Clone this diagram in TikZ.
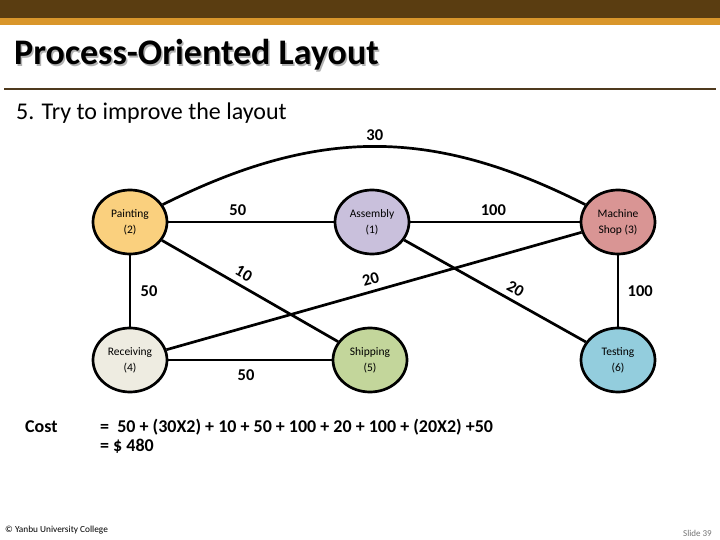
\documentclass[tikz,border=0pt]{standalone}
\usepackage{fontspec}
\setmainfont{Carlito}
\usetikzlibrary{shapes.geometric}
\definecolor{barbrown}{HTML}{5A3D11}
\definecolor{barorange}{HTML}{D9962B}
\definecolor{rulebrown}{HTML}{4F3A1E}
\definecolor{paintfill}{HTML}{FAD07E}
\definecolor{asmfill}{HTML}{C9C0DC}
\definecolor{machfill}{HTML}{D99594}
\definecolor{recvfill}{HTML}{EEECE1}
\definecolor{shipfill}{HTML}{C3D69B}
\definecolor{testfill}{HTML}{93CDDD}

\begin{document}
\begin{tikzpicture}[x=1pt,y=-1pt,
		dept/.style={ellipse,draw=black,line width=2.7pt,minimum width=74pt,minimum height=64pt,inner sep=0pt,align=center,font=\fontsize{11.5}{16}\selectfont},
		flow/.style={line width=2.7pt},
		weight/.style={font=\bfseries\fontsize{16.5}{16.5}\selectfont}]
				\useasboundingbox (0,0) rectangle (720,540);
				\fill[barbrown] (0,0) rectangle (720,18);
				\fill[barorange] (0,18) rectangle (720,25);
				
				\node[anchor=base west,inner sep=0pt,text=black!30,font=\bfseries\fontsize{36}{36}\selectfont] (titleshadow) at (15.5,66.5) {Process-Oriented Layout};
				\node[anchor=base west,inner sep=0pt,font=\bfseries\fontsize{36}{36}\selectfont] (title) at (14,65) {Process-Oriented Layout};
				\draw[rulebrown,line width=2pt] (4,89) -- (716,89);
				\node[anchor=west,inner sep=0pt,font=\fontsize{24}{24}\selectfont] (subtitle) at (16,113) {5. Try to improve the layout};
				
				\node[dept,fill=paintfill] (paint) at (130,222) {Painting\\(2)};
				\node[dept,fill=asmfill] (asm) at (372,222) {Assembly\\(1)};
				\node[dept,fill=machfill] (mach) at (618,222) {Machine\\Shop (3)};
				\node[dept,fill=recvfill] (recv) at (130,360) {Receiving\\(4)};
				\node[dept,fill=shipfill] (ship) at (370,360) {Shipping\\(5)};
				\node[dept,fill=testfill] (test) at (618,360) {Testing\\(6)};
				
				\draw[flow] (paint.28) .. controls (318,127) and (432,127) .. node[weight,above=1pt] (w30) {30} (mach.152);
				\draw[flow] (paint) -- node[weight,pos=0.42,above=2pt] (w50a) {50} (asm);
				\draw[flow] (asm) -- node[weight,pos=0.49,above=2pt] (w100a) {100} (mach);
				\draw[flow] (paint) -- node[weight,right=6pt] (w50b) {50} (recv);
				\draw[flow] (recv) -- node[weight,pos=0.476,below=5pt] (w50c) {50} (ship);
				\draw[flow] (mach) -- node[weight,right=5pt] (w100b) {100} (test);
				\draw[flow] (paint) -- node[weight,pos=0.43,above=2pt,sloped] (w10) {10} (ship);
				\draw[flow] (recv) -- node[weight,pos=0.5,above=2pt,sloped] (w20a) {20} (mach);
				\draw[flow] (asm) -- node[weight,pos=0.58,above=2pt,sloped] (w20b) {20} (test);
				
				\node[anchor=west,inner sep=0pt,font=\bfseries\fontsize{18}{19}\selectfont] (costlabel) at (25,427) {Cost};
				\node[anchor=north west,inner sep=0pt,align=left,font=\bfseries\fontsize{18}{19}\selectfont] (costsum) at (100,419) {=\ \ 50 + (30X2) + 10 + 50 + 100 + 20 + 100 + (20X2) +50\\= \$ 480};
				
				\node[anchor=west,inner sep=0pt,font=\fontsize{9.3}{9.3}\selectfont] (footer) at (5,530) {© Yanbu University College};
				\node[anchor=east,inner sep=0pt,text=black!55,font=\fontsize{9}{9}\selectfont] (slidenum) at (712,533) {Slide 39};
			\end{tikzpicture}
\end{document}
